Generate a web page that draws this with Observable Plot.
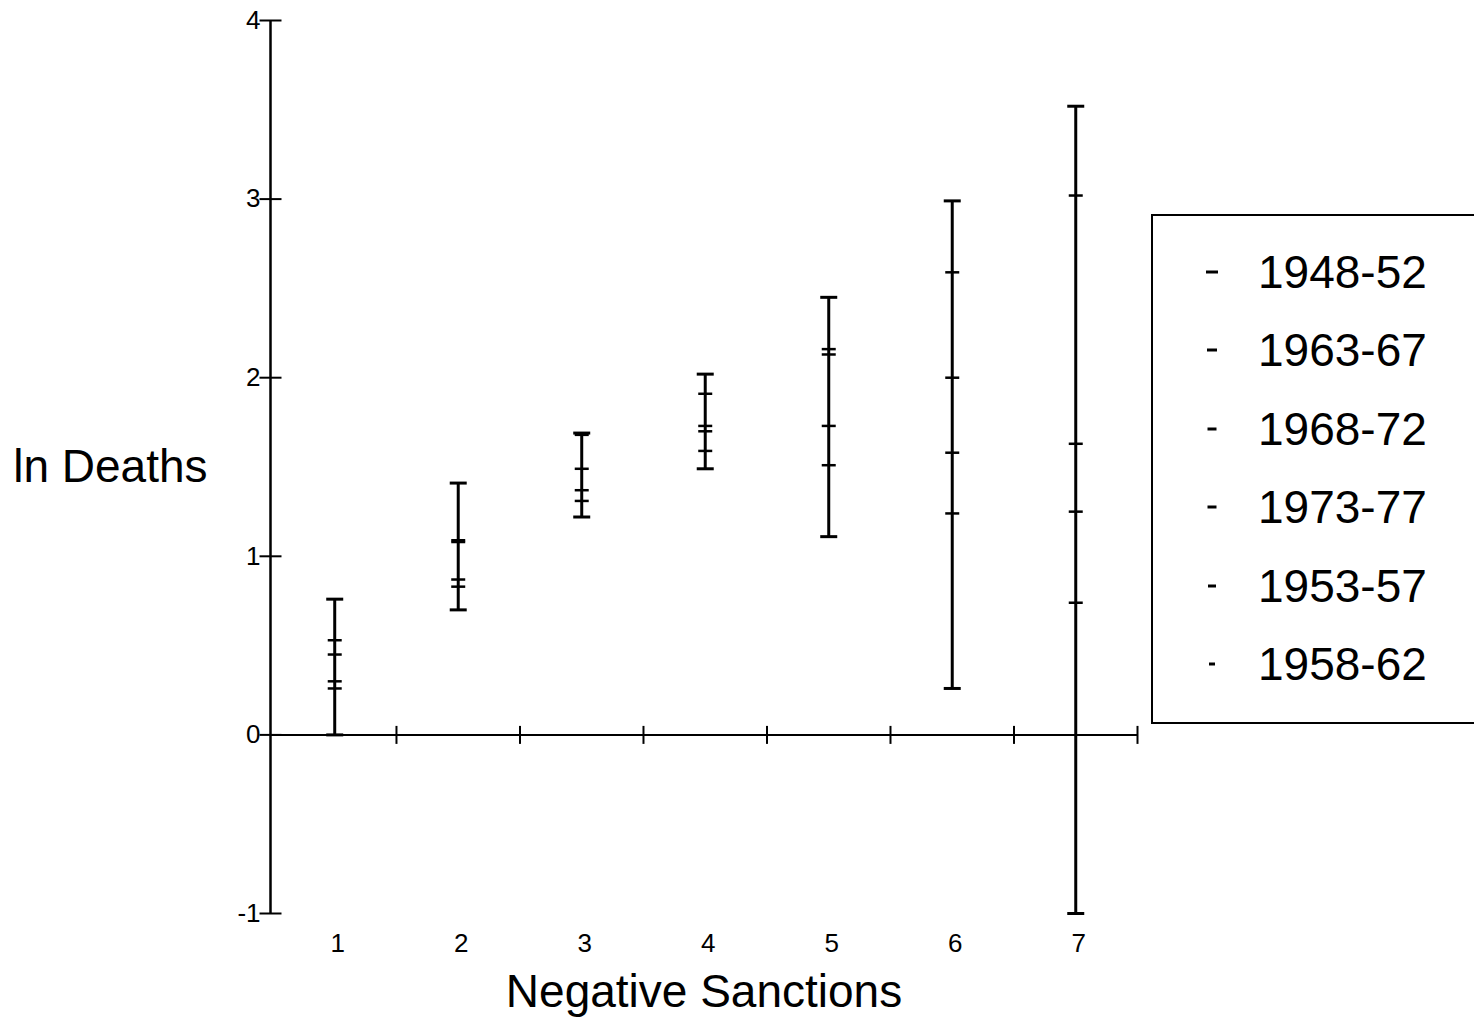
<!DOCTYPE html>
<html><head><meta charset="utf-8">
<script src="https://cdn.jsdelivr.net/npm/d3@7"></script>
<script src="https://cdn.jsdelivr.net/npm/@observablehq/plot@0.6"></script>
<style>
html,body{margin:0;padding:0;background:#fff;overflow:hidden;}
#wrap{position:relative;width:1474px;height:1024px;font-family:"Liberation Sans",Arial,Helvetica,sans-serif;}
#chart{position:absolute;left:0;top:0;}
#legend{position:absolute;left:1151px;top:214px;width:340px;height:506px;border:2px solid #000;background:#fff;}
.lg-dash{position:absolute;}
.lg-text{position:absolute;font-size:46px;line-height:52px;color:#000;white-space:nowrap;}
</style></head>
<body><div id="wrap"><div id="chart"></div><div id="legend"></div></div>
<script>
// ---- data ----
const categories = [1, 2, 3, 4, 5, 6, 7];
const series = ["1948-52", "1963-67", "1968-72", "1973-77", "1953-57", "1958-62"];
const v1948_52 = [0.00, 0.70, 1.22, 1.49, 1.11, 0.26, -1.00];
const v1963_67 = [0.45, 1.08, 1.49, 1.73, 2.13, 2.00, 1.63];
const v1968_72 = [0.53, 1.09, 1.68, 1.91, 2.16, 2.59, 3.02];
const v1973_77 = [0.76, 1.41, 1.69, 2.02, 2.45, 2.99, 3.52];
const v1953_57 = [0.26, 0.83, 1.31, 1.59, 1.51, 1.24, 0.74];
const v1958_62 = [0.30, 0.87, 1.37, 1.70, 1.73, 1.58, 1.25];
const seriesValues = [v1948_52, v1963_67, v1968_72, v1973_77, v1953_57, v1958_62];
const yTicks = [-1, 0, 1, 2, 3, 4];
const xBoundaries = [1.5, 2.5, 3.5, 4.5, 5.5, 6.5, 7.5];
const xDomain = [0.48, 7.5];
const yDomain = [-1, 4];
const xLabel = "Negative Sanctions";
const yLabel = "ln Deaths";

// ---- build ----
const rows = series.flatMap((s, si) => categories.map((c, ci) => ({series: s, cat: c, value: seriesValues[si][ci]})));
const ranges = categories.map(c => {
  const vals = rows.filter(r => r.cat === c).map(r => r.value);
  return {cat: c, lo: d3.min(vals), hi: d3.max(vals)};
});

const hLine = w => ({draw(ctx) { ctx.moveTo(-w / 2, 0); ctx.lineTo(w / 2, 0); }});
const vLine = h => ({draw(ctx) { ctx.moveTo(0, -h / 2); ctx.lineTo(0, h / 2); }});

const markerW = [17, 14, 14, 17, 14, 14];
const markerSW = [3, 2.5, 2.5, 3, 2.5, 2.5];

const seriesMarks = series.map((s, si) => Plot.dot(rows.filter(r => r.series === s), {
  x: "cat", y: "value", symbol: hLine(markerW[si]), stroke: "black", fill: "none", strokeWidth: markerSW[si]
}));

const chart = Plot.plot({
  width: 1474, height: 1024,
  marginLeft: 270, marginRight: 337, marginTop: 20, marginBottom: 111,
  x: {domain: xDomain},
  y: {domain: yDomain},
  style: {fontFamily: "'Liberation Sans', Arial, Helvetica, sans-serif", fontSize: "26px", background: "white", color: "black", overflow: "visible"},
  marks: [
    Plot.axisX(categories, {anchor: "bottom", tickSize: 0, tickPadding: 20, dx: 3, fontSize: 26, label: null, tickFormat: d => String(d)}),
    Plot.axisY(yTicks, {anchor: "left", tickSize: 0, tickPadding: 10, fontSize: 26, label: null, tickFormat: d => String(d)}),
    Plot.ruleY([0], {stroke: "black", strokeWidth: 2}),
    Plot.ruleX([xDomain[0]], {y1: yDomain[0], y2: yDomain[1], stroke: "black", strokeWidth: 2.5}),
    Plot.dot(yTicks, {x: xDomain[0], y: d => d, symbol: hLine(22), stroke: "black", fill: "none", strokeWidth: 2}),
    Plot.dot(xBoundaries, {x: d => d, y: 0, symbol: vLine(18), stroke: "black", fill: "none", strokeWidth: 2}),
    Plot.ruleX(ranges, {x: "cat", y1: "lo", y2: "hi", stroke: "black", strokeWidth: 3}),
    ...seriesMarks,
    Plot.text([yLabel], {text: d => d, frameAnchor: "left", dx: -63, textAnchor: "end", fontSize: 46, fill: "black"}),
    Plot.text([xLabel], {text: d => d, frameAnchor: "bottom", dy: 93, fontSize: 46, fill: "black"})
  ]
});
document.getElementById("chart").appendChild(chart);

// ---- legend ----
const legend = document.getElementById("legend");
const dashW = [12, 10, 9, 9, 8, 6];
series.forEach((s, i) => {
  const cy = 56 + i * 78.4;
  const svg = d3.create("svg").attr("class", "lg-dash").attr("width", 20).attr("height", 10)
    .style("left", (59 - 10) + "px").style("top", (cy - 5) + "px");
  svg.append("line").attr("x1", 10 - dashW[i] / 2).attr("x2", 10 + dashW[i] / 2).attr("y1", 5).attr("y2", 5)
    .attr("stroke", "black").attr("stroke-width", 3);
  legend.appendChild(svg.node());
  const t = document.createElement("div");
  t.className = "lg-text";
  t.style.left = "105px";
  t.style.top = (cy - 26) + "px";
  t.textContent = s;
  legend.appendChild(t);
});
</script>
</body></html>
